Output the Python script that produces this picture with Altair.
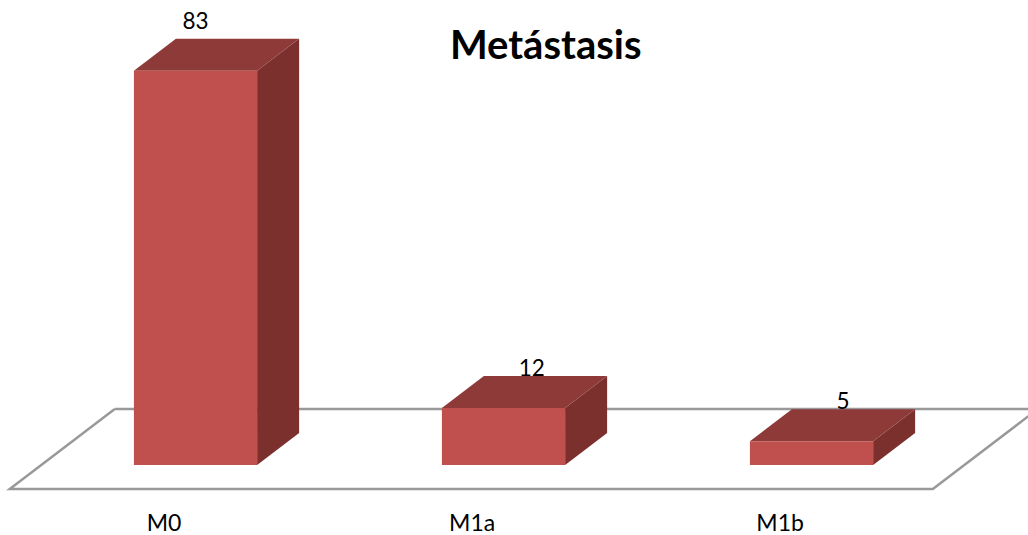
import altair as alt
import pandas as pd

categories = ["M0", "M1a", "M1b"]
values = [83, 12, 5]

# Layout in axis units: one x unit is the spacing between bars, y is in percent.
BAR_WIDTH = 0.4
DEPTH_X = 42 / 308
DEPTH_Y = 32 / 4.75
X_DOMAIN = [-195.5 / 308, (1028 - 195.5) / 308]
Y_DOMAIN = [-70 / 4.75, 465 / 4.75]

# Hand placement of each value label relative to the back of its bar's top face.
LABEL_SHIFT_X = [0.0, 0.092, 0.102]
LABEL_SHIFT_Y = [3.6, 1.5, 1.5]
CATEGORY_SHIFT_X = -0.102
CATEGORY_Y = -12.5

FONT = "Lato"
FRONT = "#C0504D"
TOP = "#8E3A39"
SIDE = "#7C302E"
FLOOR = "#999999"

x_scale = alt.Scale(domain=X_DOMAIN, nice=False, zero=False)
y_scale = alt.Scale(domain=Y_DOMAIN, nice=False, zero=False)
x_enc = alt.X("x:Q", scale=x_scale, axis=None)
y_enc = alt.Y("y:Q", scale=y_scale, axis=None)

front_rows, top_rows, side_rows, label_rows, cat_rows = [], [], [], [], []
for i, (cat, val) in enumerate(zip(categories, values)):
    x0, x1 = i - BAR_WIDTH / 2, i + BAR_WIDTH / 2
    front_rows.append({"x": x0, "x2": x1, "y": val, "y2": 0, "cat": cat})
    # Top face as an area: lower edge follows the slant, upper edge stays flat.
    for x, lo, hi in [
        (x0, val, val),
        (x0 + DEPTH_X, val, val + DEPTH_Y),
        (x1, val, val + DEPTH_Y),
        (x1 + DEPTH_X, val + DEPTH_Y, val + DEPTH_Y),
    ]:
        top_rows.append({"x": x, "y": lo, "y2": hi, "cat": cat})
    # Side face: a slanted band from the front edge to the back edge.
    for x, lo, hi in [(x1, 0, val), (x1 + DEPTH_X, DEPTH_Y, val + DEPTH_Y)]:
        side_rows.append({"x": x, "y": lo, "y2": hi, "cat": cat})
    label_rows.append({
        "x": i + LABEL_SHIFT_X[i],
        "y": val + DEPTH_Y + LABEL_SHIFT_Y[i],
        "text": str(val),
    })
    cat_rows.append({"x": i + CATEGORY_SHIFT_X, "y": CATEGORY_Y, "text": cat})

# Floor plane outline, sharing its slant with the bars.
floor_left = -0.603
floor_right = 2.394
floor_low = -5.05
floor_high = 11.79
floor_run = 105 / 308
floor_rows = [
    {"x": floor_left + floor_run, "y": floor_high, "o": 0},
    {"x": floor_left, "y": floor_low, "o": 1},
    {"x": floor_right, "y": floor_low, "o": 2},
    {"x": floor_right + floor_run, "y": floor_high, "o": 3},
    {"x": floor_left + floor_run, "y": floor_high, "o": 4},
]

floor = alt.Chart(pd.DataFrame(floor_rows)).mark_line(
    color=FLOOR, strokeWidth=2.5, clip=True
).encode(x=x_enc, y=y_enc, order="o:Q")

value_text = alt.Chart(pd.DataFrame(label_rows)).mark_text(
    font=FONT, fontSize=22.5, color="#000000", align="center", baseline="middle"
).encode(x=x_enc, y=y_enc, text="text:N")

side = alt.Chart(pd.DataFrame(side_rows)).mark_area(color=SIDE).encode(
    x=x_enc, y=y_enc, y2="y2:Q", detail="cat:N"
)
top = alt.Chart(pd.DataFrame(top_rows)).mark_area(color=TOP).encode(
    x=x_enc, y=y_enc, y2="y2:Q", detail="cat:N"
)
front = alt.Chart(pd.DataFrame(front_rows)).mark_bar(color=FRONT).encode(
    x=x_enc, x2="x2:Q", y=y_enc, y2="y2:Q"
)

category_text = alt.Chart(pd.DataFrame(cat_rows)).mark_text(
    font=FONT, fontSize=23, color="#000000", align="center", baseline="middle"
).encode(x=x_enc, y=y_enc, text="text:N")

title_text = alt.Chart(pd.DataFrame([{"x": 1.137, "y": 87.9, "text": "Metástasis"}])).mark_text(
    font=FONT, fontSize=40, fontWeight="bold", color="#000000", align="center", baseline="middle"
).encode(x=x_enc, y=y_enc, text="text:N")

chart = (
    alt.layer(floor, value_text, side, top, front, category_text, title_text)
    .properties(width=1028, height=535, padding=0, background="#FFFFFF", autosize=alt.AutoSizeParams(type="none"))
    .configure_view(stroke=None)
)

chart.save("out.html", embed_options={"renderer": "svg", "actions": False})
